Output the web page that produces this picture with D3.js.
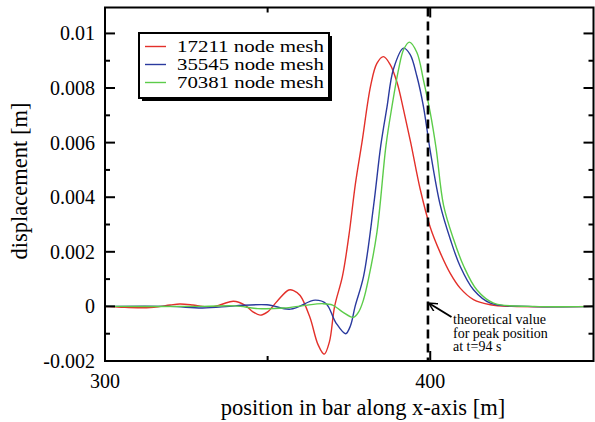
<!DOCTYPE html>
<html><head><meta charset="utf-8">
<script src="https://cdn.jsdelivr.net/npm/d3@7"></script>
<style>body{margin:0;background:#fff}svg{display:block}text{font-family:"Liberation Serif","Times New Roman",serif;fill:#000}</style>
</head><body>
<svg id="c" width="595" height="422"></svg>
<script>
const seriesNames = ["17211 node mesh", "35545 node mesh", "70381 node mesh"];
const seriesColors = ["#e3302a", "#2a3a9e", "#5ccc4a"];
const red = [[300,0],[305,-0.00003],[310,-0.00005],[315,-0.00003],[320,0.00005],[323,0.00009],[327,0.00005],[330,0],[333,-0.00002],[336,0.00008],[339.5,0.00019],[343,0.00005],[345.5,-0.0002],[347.7,-0.00032],[350,-0.0002],[353,0.0002],[356.5,0.0006],[358,0.00058],[360,0.0004],[363,-0.0004],[365.5,-0.0014],[367.4,-0.00175],[369,-0.0013],[370.6,0],[373,0.0011],[375,0.0026],[377,0.0045],[379,0.006],[381.7,0.0081],[383.6,0.0089],[385.6,0.00915],[387.7,0.00886],[389.8,0.0082],[391.8,0.0072],[394,0.006],[396.9,0.0043],[400,0.0029],[403.1,0.00196],[406.2,0.0012],[409.2,0.00067],[413.3,0.00025],[418.5,0.00006],[425,0],[450,0]];
const blue = [[300,0],[320,0],[330,-0.00006],[340,0.00002],[349.8,0.00006],[357,-0.0001],[364.6,0.00023],[368,0.0001],[371,-0.0006],[374,-0.001],[375.5,-0.0007],[376.9,0],[379.5,0.0011],[382.6,0.0037],[384.8,0.0059],[386.7,0.0073],[388.7,0.0087],[391.8,0.00946],[393.8,0.00923],[395.9,0.00843],[397.9,0.00733],[400,0.0057],[403.1,0.0037],[406.2,0.00245],[409.2,0.00147],[413.3,0.00061],[418.5,0.00012],[430,0],[450,0]];
const green = [[300,0],[330,0],[340,0.00002],[347,-0.00008],[355,-0.00006],[361,0.00003],[367,0.0001],[370,0.00005],[373,-0.0002],[376.4,-0.0004],[378,-0.0002],[379.5,0.00025],[381,0.001],[383.6,0.0027],[386.4,0.0059],[388.2,0.0073],[390.3,0.0087],[391.8,0.0094],[393.6,0.00968],[395.9,0.0093],[397.9,0.0083],[400,0.0071],[401.8,0.0058],[404.1,0.0037],[407.2,0.00245],[410.3,0.00147],[414.3,0.00061],[419.5,0.00012],[432,0],[450,0]];
const seriesData = [red, blue, green];
const xTickLabels = [300, 400];
const yTickLabels = [-0.002, 0, 0.002, 0.004, 0.006, 0.008, 0.01];
const peakX = 399.3;
const noteLines = ["theoretical value", "for peak position", "at t=94 s"];

const svg = d3.select("#c");
const L = 105, R = 593.5, T = 7.5, B = 361;
const x = d3.scaleLinear().domain([300, 450.2]).range([L, R]);
const y = d3.scaleLinear().domain([-0.002, 0.01095]).range([B, T]);

const defs = svg.append("defs");
defs.append("clipPath").attr("id","clip").append("rect").attr("x",L).attr("y",T).attr("width",R-L).attr("height",B-T);
defs.append("marker").attr("id","arr").attr("viewBox","0 0 10 10").attr("refX",9).attr("refY",5)
  .attr("markerWidth",9).attr("markerHeight",9).attr("markerUnits","userSpaceOnUse").attr("orient","auto")
  .append("path").attr("d","M0,0 L10,5 L0,10").attr("fill","none").attr("stroke","#000").attr("stroke-width",1.6);

// curves
const line = d3.line().x(d=>x(d[0])).y(d=>y(d[1])).curve(d3.curveCatmullRom.alpha(0.5));
const g = svg.append("g").attr("clip-path","url(#clip)");
seriesData.forEach((s,i)=>{
  g.append("path").attr("d", line(s)).attr("fill","none").attr("stroke",seriesColors[i]).attr("stroke-width",1.4);
});

// dashed line
svg.append("line").attr("x1",x(peakX)).attr("x2",x(peakX)).attr("y1",T).attr("y2",B)
  .attr("stroke","#000").attr("stroke-width",2.6).attr("stroke-dasharray","9,5");

// ticks (inward, on all four sides)
const tg = svg.append("g").attr("stroke","#000").attr("stroke-width",2);
[300,350,400].forEach(v=>{
  const len = v%100===0?10:5;
  tg.append("line").attr("x1",x(v)).attr("x2",x(v)).attr("y1",B).attr("y2",B-len);
  tg.append("line").attr("x1",x(v)).attr("x2",x(v)).attr("y1",T).attr("y2",T+len);
});
d3.range(-2,11,1).forEach((k,i)=>{
  const v = k/1000, len = i%2===0?10:5;
  tg.append("line").attr("x1",L).attr("x2",L+len).attr("y1",y(v)).attr("y2",y(v));
  tg.append("line").attr("x1",R).attr("x2",R-len).attr("y1",y(v)).attr("y2",y(v));
});
svg.append("rect").attr("x",L).attr("y",T).attr("width",R-L).attr("height",B-T)
  .attr("fill","none").attr("stroke","#000").attr("stroke-width",2);

// tick labels
const fmtY = v => v===0 ? "0" : (v===0.01 ? "0.01" : d3.format(".3f")(v).replace("\u2212","-"));
svg.append("g").selectAll("text").data(yTickLabels).join("text")
  .attr("x",95).attr("y",d=>y(d)).attr("dy","0.35em").attr("text-anchor","end")
  .attr("font-size",20).text(fmtY);
svg.append("g").selectAll("text").data(xTickLabels).join("text")
  .attr("x",d=>x(d)).attr("y",388).attr("text-anchor","middle").attr("font-size",20).text(d=>d);

// axis titles
svg.append("text").attr("transform","translate(27,181) rotate(-90)").attr("text-anchor","middle")
  .attr("font-size",22.5).text("displacement [m]");
svg.append("text").attr("x",363).attr("y",415).attr("text-anchor","middle").attr("font-size",22.5)
  .text("position in bar along x-axis [m]");

// legend
const lg = svg.append("g");
lg.append("rect").attr("x",142).attr("y",36).attr("width",190).attr("height",65).attr("fill","#000");
lg.append("rect").attr("x",139).attr("y",33).attr("width",190).attr("height",65).attr("fill","#fff").attr("stroke","#000").attr("stroke-width",2);
seriesNames.forEach((n,i)=>{
  const yy = 46.5 + i*18;
  lg.append("line").attr("x1",145).attr("x2",166).attr("y1",yy).attr("y2",yy).attr("stroke",seriesColors[i]).attr("stroke-width",1.4);
  const t = lg.append("text").attr("x",0).attr("y",0).attr("dy","0.36em").attr("font-size",16).text(n);
  const w = t.node().getComputedTextLength();
  t.attr("transform",`translate(177,${yy}) scale(${147/w},1)`);
});

// annotation
svg.append("line").attr("x1",451.5).attr("y1",317).attr("x2",x(peakX)+1.5).attr("y2",303.5)
  .attr("stroke","#000").attr("stroke-width",2).attr("marker-end","url(#arr)");
noteLines.forEach((t,i)=>{
  svg.append("text").attr("x",453).attr("y",324+i*13.7).attr("font-size",14).text(t);
});
</script>
</body></html>
